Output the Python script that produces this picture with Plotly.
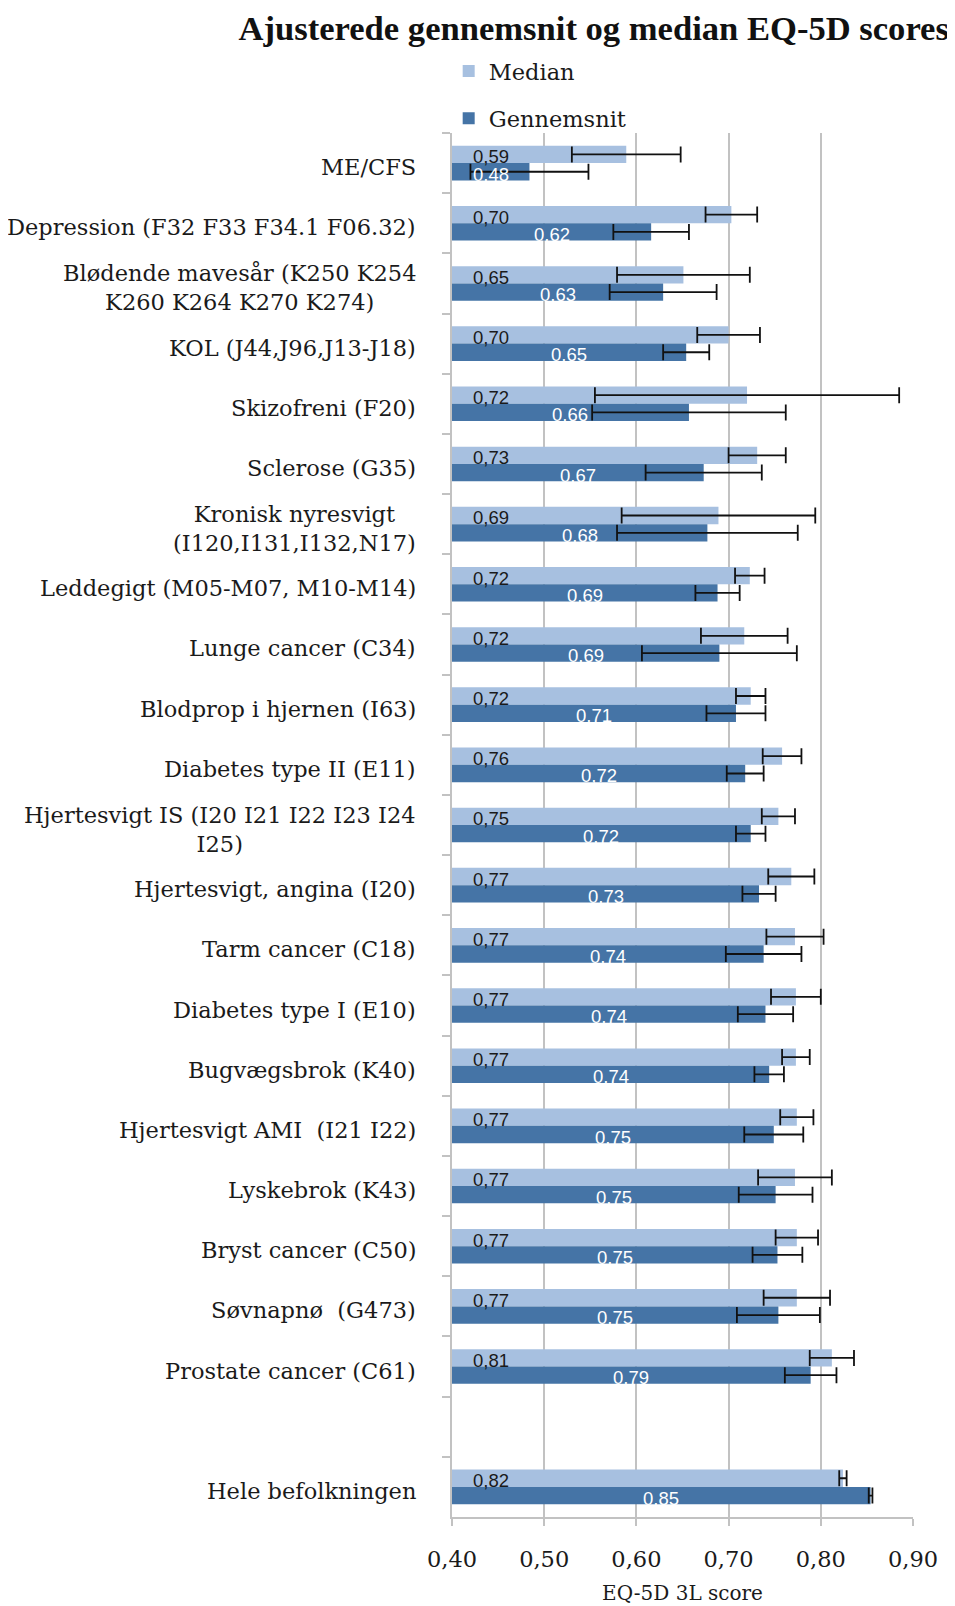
import plotly.graph_objects as go

categories = [
    "ME/CFS",
    "Depression (F32 F33 F34.1 F06.32)",
    "Blødende mavesår (K250 K254<br>K260 K264 K270 K274)",
    "KOL (J44,J96,J13-J18)",
    "Skizofreni (F20)",
    "Sclerose (G35)",
    "Kronisk nyresvigt<br>(I120,I131,I132,N17)",
    "Leddegigt (M05-M07, M10-M14)",
    "Lunge cancer (C34)",
    "Blodprop i hjernen (I63)",
    "Diabetes type II (E11)",
    "Hjertesvigt IS (I20 I21 I22 I23 I24<br>I25)",
    "Hjertesvigt, angina (I20)",
    "Tarm cancer (C18)",
    "Diabetes type I (E10)",
    "Bugvægsbrok (K40)",
    "Hjertesvigt AMI  (I21 I22)",
    "Lyskebrok (K43)",
    "Bryst cancer (C50)",
    "Søvnapnø  (G473)",
    "Prostate cancer (C61)",
    " ",
    "Hele befolkningen",
]

median = [0.589, 0.703, 0.651, 0.700, 0.720, 0.731, 0.689, 0.723, 0.717, 0.724, 0.758,
          0.754, 0.768, 0.772, 0.773, 0.773, 0.774, 0.772, 0.774, 0.774, 0.812, None, 0.824]
median_err = [0.059, 0.028, 0.072, 0.034, 0.165, 0.031, 0.105, 0.016, 0.047, 0.016, 0.021,
              0.018, 0.025, 0.031, 0.027, 0.015, 0.018, 0.040, 0.023, 0.036, 0.024, None, 0.004]

mean = [0.484, 0.616, 0.629, 0.654, 0.657, 0.673, 0.677, 0.688, 0.690, 0.708, 0.718,
        0.724, 0.733, 0.738, 0.740, 0.744, 0.749, 0.751, 0.753, 0.754, 0.789, None, 0.854]
mean_err = [0.064, 0.041, 0.058, 0.025, 0.105, 0.063, 0.098, 0.024, 0.084, 0.032, 0.020,
            0.016, 0.018, 0.041, 0.030, 0.016, 0.032, 0.040, 0.027, 0.045, 0.028, None, 0.002]

x_ticks = [0.40, 0.50, 0.60, 0.70, 0.80, 0.90]
x_range = [0.40, 0.90]

FONT = "DejaVu Serif"
TITLE_FONT = "Liberation Serif"
LABEL_FONT = "Liberation Sans"
LIGHT = "#A7C0E0"
DARK = "#4574A6"
GRID = "#C2C2C2"
INK = "#1a1a1a"

W, H = 947, 1598
M = dict(l=444, r=42, t=125, b=89)
BARGAP = 0.425

fig = go.Figure()
fig.add_trace(go.Bar(
    name="Median", y=categories, x=median, orientation="h",
    marker=dict(color=LIGHT, line=dict(width=0)),
    error_x=dict(type="data", array=median_err, color="#111111", thickness=1.8, width=8),
    legendgroup="a", hoverinfo="x+y",
))
fig.add_trace(go.Bar(
    name="Gennemsnit", y=categories, x=mean, orientation="h",
    marker=dict(color=DARK, line=dict(width=0)),
    error_x=dict(type="data", array=mean_err, color="#111111", thickness=1.8, width=8),
    legendgroup="b", hoverinfo="x+y",
))

# pixel geometry of one category slot (for placing the value labels on the bars)
slot_px = (H - M["t"] - M["b"]) / len(categories)
half_bar = slot_px * (1 - BARGAP) / 4


def fmt(v):
    return f"{v:.2f}".replace(".", ",")


for c, md, mn in zip(categories, median, mean):
    # category label (centered multi-line, like the original)
    fig.add_annotation(
        x=0, xref="paper", y=c, yref="y", text=c, showarrow=False,
        xanchor="right", xshift=-34, yshift=-4, align="center",
        font=dict(family=FONT, size=22.5, color=INK),
    )
    if md is None:
        continue
    fig.add_annotation(
        x=x_range[0], xref="x", y=c, yref="y", text=fmt(md), showarrow=False,
        xanchor="left", xshift=19, yshift=half_bar - 2.5,
        font=dict(family=LABEL_FONT, size=18.5, color=INK),
    )
    fig.add_annotation(
        x=(x_range[0] + mn) / 2, xref="x", y=c, yref="y", text=fmt(mn), showarrow=False,
        xanchor="center", yshift=-half_bar - 2.5,
        font=dict(family=LABEL_FONT, size=18.5, color="white"),
    )

fig.update_layout(
    width=W, height=H,
    margin=M,
    paper_bgcolor="white", plot_bgcolor="white",
    separators=",.",
    barmode="group", bargap=BARGAP, bargroupgap=0,
    showlegend=True,
    title=dict(text="<b>Ajusterede gennemsnit og median EQ-5D scores</b>",
               x=0.6185, xanchor="center", y=1 - 20 / H, yanchor="middle",
               font=dict(family=TITLE_FONT, size=34.6, color="#111111")),
    legend=dict(x=-0.0072, xanchor="left", y=1.0601, yanchor="top", orientation="v",
                traceorder="grouped", tracegroupgap=15, bgcolor="rgba(0,0,0,0)",
                font=dict(family=FONT, size=22.5, color=INK)),
    xaxis=dict(range=x_range, tickvals=x_ticks, tickformat=".2f",
               showgrid=True, gridcolor=GRID, gridwidth=2,
               showline=True, linecolor=GRID, linewidth=2,
               ticks="outside", ticklen=7, tickcolor=GRID, tickwidth=2,
               ticklabelstandoff=14, automargin=False,
               tickfont=dict(family=FONT, size=22.5, color=INK),
               title=dict(text="EQ-5D 3L score", standoff=15,
                          font=dict(family=FONT, size=20, color=INK)),
               zeroline=False),
    yaxis=dict(categoryorder="array", categoryarray=categories,
               range=[len(categories) - 0.5, -0.5], automargin=False,
               showticklabels=False, tickson="boundaries",
               ticks="outside", ticklen=8, tickcolor=GRID, tickwidth=2,
               showline=True, linecolor=GRID, linewidth=2, showgrid=False),
)

fig.write_html("out.html")
